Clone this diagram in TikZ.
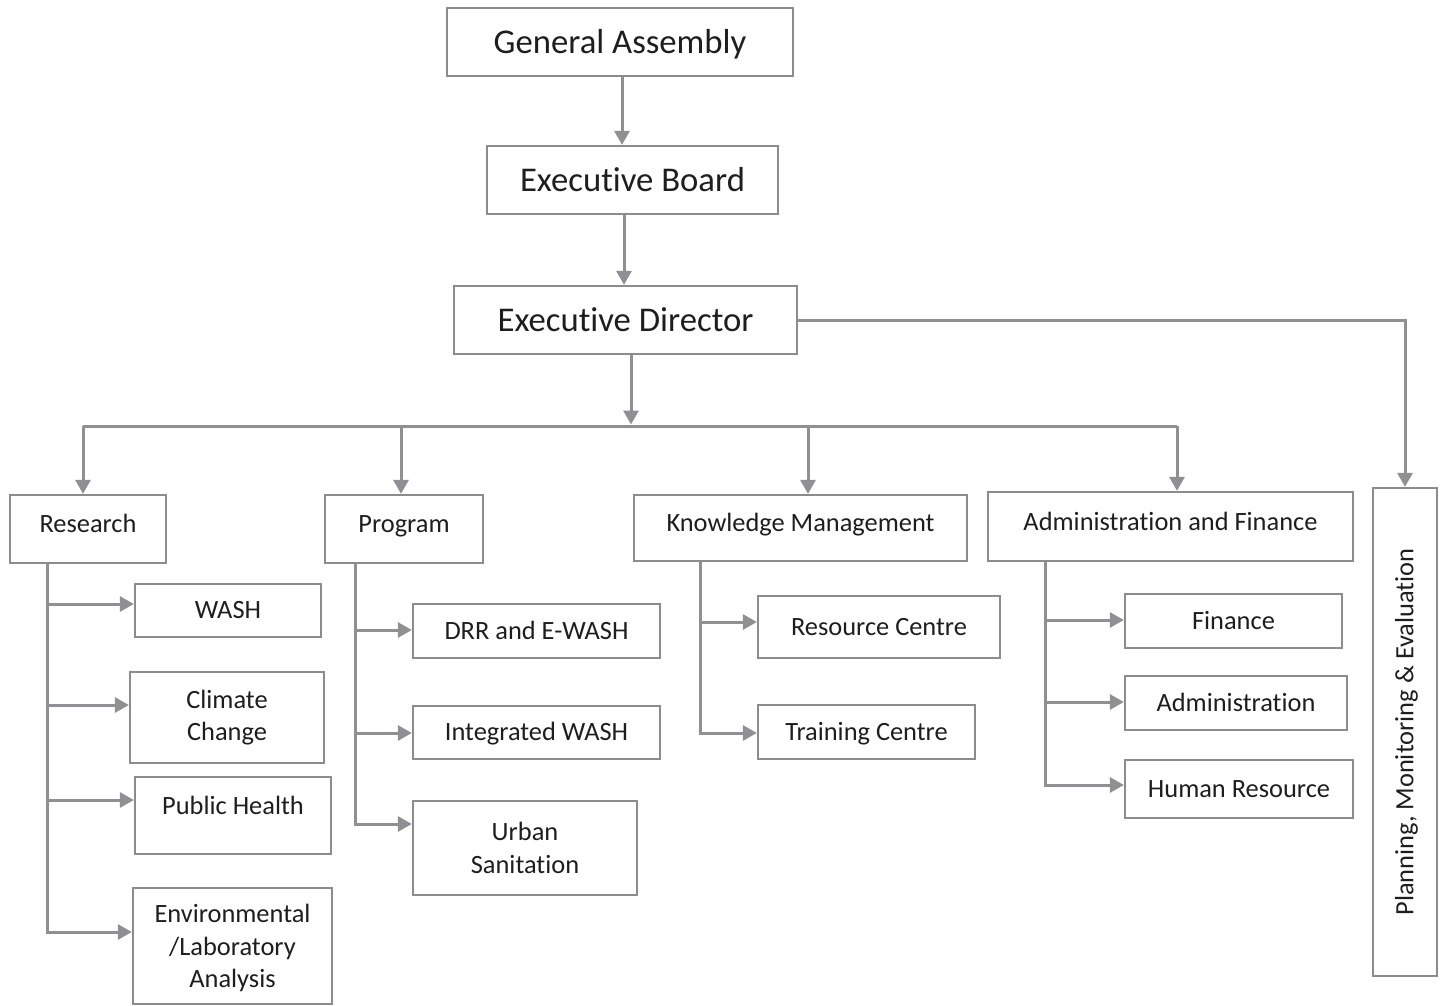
\documentclass[tikz,border=0pt]{standalone}
\usepackage{fontspec}
\setmainfont{Carlito}[Ligatures={NoCommon}]
\usetikzlibrary{arrows.meta}
\definecolor{lngray}{RGB}{143,143,148}
\definecolor{bxgray}{RGB}{140,140,140}
\definecolor{txtc}{RGB}{30,30,30}
\begin{document}
\begin{tikzpicture}[x=1pt,y=-1pt,
  box/.style={draw=bxgray, line width=2.3pt, inner sep=0pt, text=txtc, fill=white},
  big/.style={box, font=\fontsize{34.7}{40}\selectfont, text height=22.2pt, text depth=0pt},
  sm/.style={box, font=\fontsize{26.4}{32.5}\selectfont, text height=16.9pt, text depth=0pt},
  lvtwo/.style={sm, text depth=9.5pt},
  smml/.style={box, font=\fontsize{26.4}{32.5}\selectfont, align=center},
  ln/.style={draw=lngray, line width=3pt},
  arr/.style={ln, -{Triangle[width=15pt,length=14pt]}}]
\useasboundingbox (0,0) rectangle (1445,1006);
% top chain
\node[big, minimum width=346pt, minimum height=68pt] (GA) at (620,42) {General Assembly};
\node[big, minimum width=291pt, minimum height=68pt] (EB) at (632.5,180) {Executive Board};
\node[big, minimum width=343pt, minimum height=68pt] (ED) at (625.5,320) {Executive Director};
% level two
\node[lvtwo, minimum width=156pt, minimum height=68pt] (RS) at (88,529) {Research};
\node[lvtwo, minimum width=158pt, minimum height=68pt] (PG) at (404,529) {Program};
\node[lvtwo, minimum width=333pt, minimum height=66pt] (KM) at (800.5,528) {Knowledge Management};
\node[lvtwo, minimum width=365pt, minimum height=69pt] (AF) at (1170.5,526.5) {Administration and Finance};
\node[sm, rotate=90, minimum width=488pt, minimum height=64pt] (PME) at (1405,732) {Planning, Monitoring \& Evaluation};
% research children
\node[sm, minimum width=186pt, minimum height=53pt] (WASH) at (228,610.5) {WASH};
\node[smml, minimum width=194pt, minimum height=91pt] (CC) at (227,717.5) {Climate\\Change};
\node[sm, text depth=19pt, minimum width=196pt, minimum height=77pt] (PH) at (233,815.5) {Public Health};
\node[smml, text depth=0pt, minimum width=199pt, minimum height=116pt] (ENV) at (232.5,946) {Environmental\\/Laboratory\\Analysis};
% program children
\node[sm, minimum width=247pt, minimum height=54pt] (DRR) at (536.5,631) {DRR and E-WASH};
\node[sm, minimum width=247pt, minimum height=53pt] (IW) at (536.5,732.5) {Integrated WASH};
\node[smml, minimum width=224pt, minimum height=94pt] (US) at (525,848) {Urban\\Sanitation};
% KM children
\node[sm, minimum width=242pt, minimum height=62pt] (RC) at (879,627) {Resource Centre};
\node[sm, minimum width=217pt, minimum height=54pt] (TC) at (866.5,732) {Training Centre};
% AF children
\node[sm, minimum width=217pt, minimum height=54pt] (FIN) at (1233.5,621) {Finance};
\node[sm, minimum width=222pt, minimum height=54pt] (ADM) at (1236,703) {Administration};
\node[sm, minimum width=228pt, minimum height=58pt] (HR) at (1239,789) {Human Resource};
% top connectors
\draw[arr] ([xshift=2pt]GA.south) -- ([xshift=2pt]GA.south |- EB.north);
\draw[arr] ([xshift=-8.5pt]EB.south) -- ([xshift=-8.5pt]EB.south |- ED.north);
\coordinate (busc) at (631,426);
\draw[arr] (ED.south -| busc) -- ([yshift=1.5pt]busc);
\draw[arr] (ED.east) -| (PME.east);
% bus
\coordinate (bR) at (83,426);
\coordinate (bP) at (401,426);
\coordinate (bK) at (808,426);
\coordinate (bA) at (1177,426);
\draw[ln] (bR) -- (bA);
\draw[arr] (bR) -- (bR |- RS.north);
\draw[arr] (bP) -- (bP |- PG.north);
\draw[arr] (bK) -- (bK |- KM.north);
\draw[arr] (bA) -- (bA |- AF.north);
% research spine
\coordinate (r1) at (47,604);
\coordinate (r2) at (47,705);
\coordinate (r3) at (47,800);
\coordinate (r4) at (47,932);
\draw[arr] (r4 |- RS.south) -- (r4) -- (r4 -| ENV.west);
\draw[arr] (r1) -- (r1 -| WASH.west);
\draw[arr] (r2) -- (r2 -| CC.west);
\draw[arr] (r3) -- (r3 -| PH.west);
% program spine
\coordinate (p1) at (355,630);
\coordinate (p2) at (355,733);
\coordinate (p3) at (355,824);
\draw[arr] (p3 |- PG.south) -- (p3) -- (p3 -| US.west);
\draw[arr] (p1) -- (p1 -| DRR.west);
\draw[arr] (p2) -- (p2 -| IW.west);
% KM spine
\coordinate (k1) at (700,622);
\coordinate (k2) at (700,733);
\draw[arr] (k2 |- KM.south) -- (k2) -- (k2 -| TC.west);
\draw[arr] (k1) -- (k1 -| RC.west);
% AF spine
\coordinate (a1) at (1045,620);
\coordinate (a2) at (1045,702);
\coordinate (a3) at (1045,785);
\draw[arr] (a3 |- AF.south) -- (a3) -- (a3 -| HR.west);
\draw[arr] (a1) -- (a1 -| FIN.west);
\draw[arr] (a2) -- (a2 -| ADM.west);
\end{tikzpicture}
\end{document}
